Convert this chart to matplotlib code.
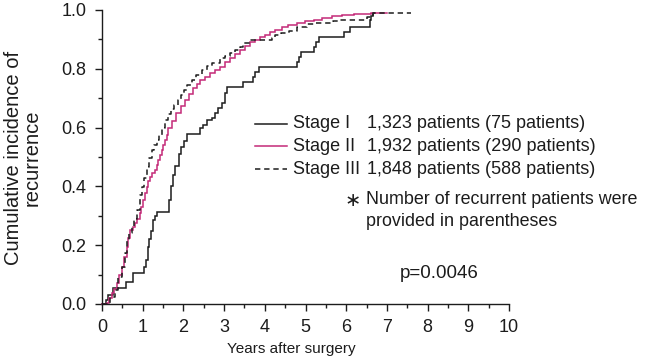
import matplotlib
matplotlib.use('Agg')
import matplotlib.pyplot as plt
from matplotlib.ticker import MultipleLocator
from matplotlib.lines import Line2D

plt.rcParams['font.family'] = ['Liberation Sans', 'DejaVu Sans']

# ---------------- data ----------------
stage1_t = [0.00, 0.10, 0.15, 0.27, 0.60, 0.75, 1.03, 1.08, 1.12, 1.16, 1.20, 1.25,
            1.30, 1.36, 1.65, 1.70, 1.75, 1.80, 1.88, 1.95, 2.02, 2.08, 2.40, 2.49,
            2.57, 2.70, 2.78, 2.86, 2.94, 3.02, 3.06, 3.47, 3.70, 3.75, 3.86, 4.80,
            4.85, 4.90, 5.20, 5.25, 5.33, 5.95, 6.10, 6.58, 6.62, 6.66]
stage1_v = [0.000, 0.015, 0.030, 0.053, 0.075, 0.104, 0.127, 0.150, 0.195, 0.220, 0.250, 0.285,
            0.300, 0.314, 0.354, 0.400, 0.440, 0.470, 0.510, 0.535, 0.555, 0.578, 0.597, 0.609,
            0.626, 0.631, 0.649, 0.666, 0.683, 0.717, 0.739, 0.756, 0.773, 0.790, 0.807, 0.824,
            0.841, 0.858, 0.875, 0.892, 0.909, 0.926, 0.943, 0.965, 0.980, 0.990]

stage2_t = [0.00, 0.12, 0.18, 0.24, 0.30, 0.36, 0.42, 0.48, 0.55, 0.61, 0.65, 0.69,
            0.75, 0.81, 0.87, 0.93, 0.97, 1.01, 1.06, 1.10, 1.14, 1.18, 1.24, 1.30,
            1.34, 1.38, 1.43, 1.47, 1.51, 1.55, 1.59, 1.63, 1.73, 1.83, 1.93, 2.04,
            2.14, 2.24, 2.33, 2.41, 2.53, 2.65, 2.78, 2.90, 3.02, 3.14, 3.26, 3.39,
            3.52, 3.64, 3.76, 3.88, 4.00, 4.12, 4.25, 4.42, 4.58, 4.78, 4.99, 5.20,
            5.40, 5.65, 5.89, 6.20, 6.60]
stage2_v = [0.000, 0.005, 0.020, 0.036, 0.050, 0.070, 0.100, 0.127, 0.160, 0.195, 0.225, 0.252,
            0.262, 0.274, 0.290, 0.308, 0.330, 0.354, 0.378, 0.399, 0.418, 0.433, 0.445, 0.456,
            0.472, 0.490, 0.508, 0.524, 0.541, 0.558, 0.575, 0.597, 0.623, 0.649, 0.672, 0.694,
            0.714, 0.734, 0.748, 0.762, 0.773, 0.785, 0.796, 0.807, 0.822, 0.836, 0.850, 0.864,
            0.878, 0.892, 0.899, 0.909, 0.916, 0.925, 0.933, 0.942, 0.950, 0.955, 0.961, 0.967,
            0.973, 0.978, 0.982, 0.986, 0.990]

stage3_t = [0.00, 0.12, 0.20, 0.32, 0.40, 0.48, 0.57, 0.61, 0.67, 0.73, 0.79, 0.85,
            0.93, 0.98, 1.04, 1.10, 1.16, 1.22, 1.28, 1.34, 1.40, 1.47, 1.55, 1.63,
            1.70, 1.78, 1.86, 1.94, 2.02, 2.10, 2.20, 2.32, 2.45, 2.58, 2.70, 2.90,
            3.02, 3.14, 3.26, 3.39, 3.47, 3.64, 4.17, 4.25, 4.41, 4.60, 4.78, 5.03,
            5.27, 5.68, 5.85, 6.50, 6.66]
stage3_v = [0.000, 0.005, 0.025, 0.048, 0.093, 0.127, 0.172, 0.218, 0.240, 0.263, 0.290, 0.320,
            0.370, 0.399, 0.430, 0.467, 0.495, 0.524, 0.541, 0.558, 0.575, 0.600, 0.625, 0.645,
            0.662, 0.678, 0.695, 0.712, 0.728, 0.745, 0.762, 0.779, 0.796, 0.808, 0.820, 0.836,
            0.845, 0.853, 0.864, 0.875, 0.887, 0.898, 0.904, 0.915, 0.921, 0.930, 0.943, 0.952,
            0.955, 0.961, 0.966, 0.977, 0.990]

stage_end = [6.70, 7.00, 7.60]  # last follow-up time of each curve (years)

stage_names = ['Stage I', 'Stage II', 'Stage III']
stage_counts = ['1,323 patients (75 patients)',
                '1,932 patients (290 patients)',
                '1,848 patients (588 patients)']

x_ticks = [0, 1, 2, 3, 4, 5, 6, 7, 8, 9, 10]
y_ticks = [0.0, 0.2, 0.4, 0.6, 0.8, 1.0]

# ---------------- styling ----------------
W, H = 646, 359
MAGENTA = '#c42a78'
INK = '#1c1c1c'
styles = [dict(color=INK, lw=1.1, ls='-'),
          dict(color=MAGENTA, lw=1.1, ls='-'),
          dict(color=INK, lw=1.1, ls=(0, (3.5, 2.5)))]

def fx(px):
    return px / W

def fy(py):
    return 1 - py / H

fig = plt.figure(figsize=(W / 100, H / 100), dpi=100)
ax = fig.add_axes([fx(102), fy(304), (509 - 102) / W, (304 - 10) / H])

series = [(stage1_t, stage1_v), (stage2_t, stage2_v), (stage3_t, stage3_v)]
for (t, v), end, st in zip(series, stage_end, styles):
    ax.plot(list(t) + [end], list(v) + [v[-1]], drawstyle='steps-post',
            solid_joinstyle='miter', clip_on=False, **st)

ax.set_xlim(0, 10)
ax.set_ylim(0, 1.0)
ax.set_xticks(x_ticks)
ax.set_yticks(y_ticks)
ax.set_yticklabels([f'{v:.1f}' for v in y_ticks])
ax.xaxis.set_minor_locator(MultipleLocator(0.5))
ax.yaxis.set_minor_locator(MultipleLocator(0.1))
ax.tick_params(which='major', direction='out', length=5, width=1.0, colors=INK,
               labelsize=13)
ax.tick_params(axis='x', which='major', pad=6)
ax.tick_params(axis='y', which='major', pad=6)
ax.tick_params(which='minor', direction='out', length=3, width=1.0, colors=INK)
for s in ['top', 'right']:
    ax.spines[s].set_visible(False)
for s in ['left', 'bottom']:
    ax.spines[s].set_linewidth(1.0)
    ax.spines[s].set_color(INK)

fig.text(fx(291), fy(349), 'Years after surgery', ha='center', va='center',
         fontsize=11, color=INK)
fig.text(fx(23), fy(158), 'Cumulative incidence of\nrecurrence', rotation=90,
         ha='center', va='center', fontsize=14.5, color=INK, linespacing=0.95,
         multialignment='center')

# legend (drawn manually to keep the column alignment)
rows_y = [124, 146, 169]
for name, cnt, st, ry in zip(stage_names, stage_counts, styles, rows_y):
    fig.add_artist(Line2D([fx(255), fx(287)], [fy(ry), fy(ry)], transform=fig.transFigure,
                          **st))
    fig.text(fx(293), fy(ry), name, ha='left', va='center', fontsize=13, color=INK)
    fig.text(fx(367), fy(ry), cnt, ha='left', va='center', fontsize=13, color=INK)

fig.text(fx(345), fy(201), '\u2217', ha='left', va='center', fontsize=14, color=INK,
         family=['DejaVu Sans'])
fig.text(fx(366), fy(200), 'Number of recurrent patients were', ha='left', va='center',
         fontsize=12.9, color=INK)
fig.text(fx(366), fy(222), 'provided in parentheses', ha='left', va='center',
         fontsize=12.9, color=INK)
fig.text(fx(439), fy(274), 'p=0.0046', ha='center', va='center', fontsize=13.5, color=INK)

fig.savefig('out.png', dpi=100, facecolor='white')
